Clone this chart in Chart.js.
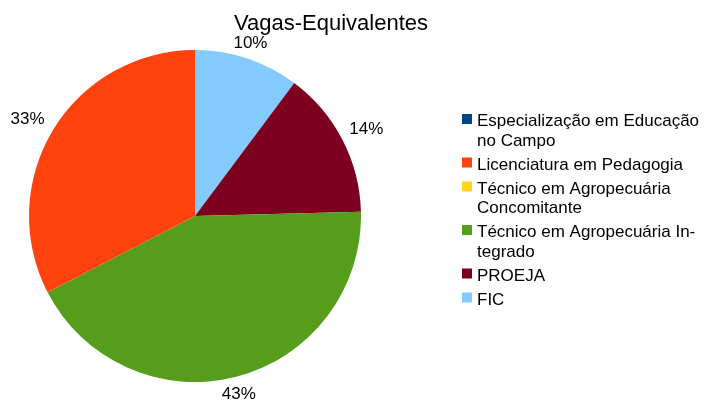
<!DOCTYPE html>
<html>
<head>
<meta charset="utf-8">
<script src="https://cdn.jsdelivr.net/npm/chart.js@4/dist/chart.umd.min.js"></script>
<style>
  html, body { margin: 0; padding: 0; background: #fff; }
  #wrap { width: 704px; height: 403px; }
</style>
</head>
<body>
<div id="wrap"><canvas id="pie" width="704" height="403"></canvas></div>
<script>
// dados do gráfico (ordem da legenda)
const categories = [
  ['Especialização em Educação', 'no Campo'],
  ['Licenciatura em Pedagogia'],
  ['Técnico em Agropecuária', 'Concomitante'],
  ['Técnico em Agropecuária In-', 'tegrado'],
  ['PROEJA'],
  ['FIC']
];
const values = [0, 32.6, 0, 42.8, 14.4, 10.2];
const colors = ['#004586', '#ff420e', '#ffd320', '#579d1c', '#7e0021', '#83caff'];
const chartTitle = 'Vagas-Equivalentes';

const FONT = '"Liberation Sans", Arial, sans-serif';

// LibreOffice desenha no sentido anti-horário: inverte para o Chart.js
const revValues = values.slice().reverse();
const revColors = colors.slice().reverse();
const revLabels = categories.slice().reverse().map(l => l.join(' '));

const extras = {
  id: 'extras',
  afterDraw(chart) {
    const ctx = chart.ctx;
    ctx.save();
    ctx.fillStyle = '#000';
    ctx.textBaseline = 'alphabetic';

    // título
    ctx.font = '22px ' + FONT;
    ctx.textAlign = 'center';
    ctx.fillText(chartTitle, 331, 30);

    // rótulos de porcentagem (fora da pizza)
    const meta = chart.getDatasetMeta(0);
    const total = revValues.reduce((a, b) => a + b, 0);
    ctx.font = '17px ' + FONT;
    ctx.textAlign = 'left';
    meta.data.forEach((arc, i) => {
      const v = revValues[i];
      if (!v) return;
      const mid = (arc.startAngle + arc.endAngle) / 2;
      const dx = Math.cos(mid), dy = Math.sin(mid);
      const txt = Math.round(v / total * 100) + '%';
      const w = ctx.measureText(txt).width, h = 12;
      const ax = arc.x + dx * (arc.outerRadius + 10);
      const ay = arc.y + dy * (arc.outerRadius + 10);
      let left, top;
      if (Math.abs(dx) < 0.4) left = ax - w / 2;
      else left = dx > 0 ? ax - 2 : ax - w;
      if (Math.abs(dy) < 0.4) top = ay - h / 2;
      else top = dy > 0 ? ay + 1 : ay - h - 1;
      ctx.fillText(txt, left, top + h);
    });

    // legenda
    ctx.font = '17px ' + FONT;
    let y = 126;
    categories.forEach((lines, i) => {
      ctx.fillStyle = colors[i];
      ctx.fillRect(462, y - 12, 10, 10);
      ctx.fillStyle = '#000';
      lines.forEach((ln, j) => ctx.fillText(ln, 477, y + j * 19.5));
      y += (lines.length - 1) * 19.5 + 24;
    });
    ctx.restore();
  }
};

new Chart(document.getElementById('pie'), {
  type: 'pie',
  data: {
    labels: revLabels,
    datasets: [{
      data: revValues,
      backgroundColor: revColors,
      borderWidth: 0
    }]
  },
  options: {
    responsive: false,
    animation: false,
    layout: { padding: { left: 29, right: 343, top: 50, bottom: 21 } },
    plugins: {
      legend: { display: false },
      title: { display: false },
      tooltip: { enabled: false }
    }
  },
  plugins: [extras]
});
</script>
</body>
</html>
